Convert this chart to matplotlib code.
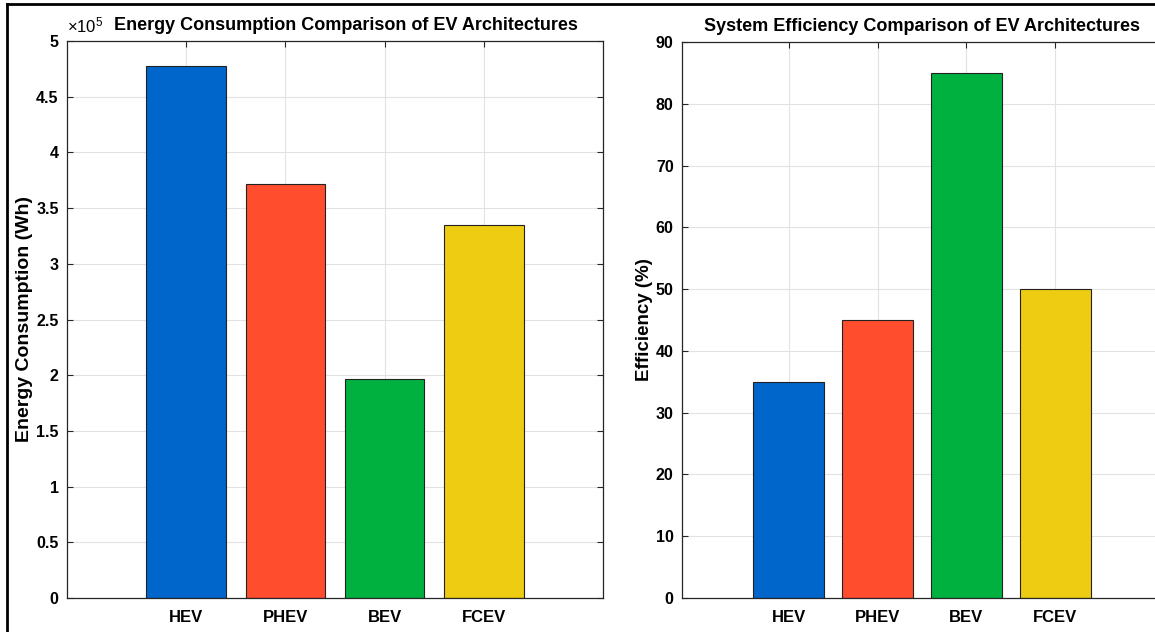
import matplotlib
matplotlib.use("Agg")
import matplotlib.pyplot as plt
from matplotlib.lines import Line2D

# Data
architectures = ["HEV", "PHEV", "BEV", "FCEV"]
energy_wh = [4.78e5, 3.72e5, 1.97e5, 3.35e5]
efficiency_pct = [35, 45, 85, 50]
bar_colors = ["#0066CC", "#FF4D2E", "#00B140", "#EECC11"]

energy_ticks = [0, 0.5, 1, 1.5, 2, 2.5, 3, 3.5, 4, 4.5, 5]
efficiency_ticks = [0, 10, 20, 30, 40, 50, 60, 70, 80, 90]

plt.rcParams["font.family"] = ["Liberation Sans", "DejaVu Sans"]
plt.rcParams["font.weight"] = "bold"
plt.rcParams["mathtext.default"] = "regular"

W, H = 1155, 632
fig = plt.figure(figsize=(W / 100, H / 100), dpi=100)


def px_axes(x0, y0, x1, y1):
    return fig.add_axes([x0 / W, 1 - y1 / H, (x1 - x0) / W, (y1 - y0) / H])


def style(ax):
    ax.set_xlim(-0.2, 5.2)
    ax.grid(True, color="#E2E2E2", linewidth=0.8)
    ax.set_axisbelow(True)
    for s in ax.spines.values():
        s.set_color("#262626")
        s.set_linewidth(0.9)
    ax.tick_params(direction="in", top=True, right=True, length=4,
                   color="#262626", labelsize=11.5, pad=6)
    ax.tick_params(axis="x", pad=9, labelsize=12)
    for lab in ax.get_xticklabels() + ax.get_yticklabels():
        lab.set_fontweight("bold")


x = [1, 2, 3, 4]

# Energy consumption panel
ax1 = px_axes(67, 41, 603, 598)
ax1.bar(x, [v / 1e5 for v in energy_wh], width=0.8, color=bar_colors,
        edgecolor="#222222", linewidth=0.8)
ax1.set_ylim(0, 5)
ax1.set_yticks(energy_ticks)
ax1.set_yticklabels([f"{t:g}" for t in energy_ticks])
ax1.set_xticks(x)
ax1.set_xticklabels(architectures)
style(ax1)
ax1.set_ylabel("Energy Consumption (Wh)", fontsize=14, fontweight="bold")
ax1.yaxis.set_label_coords(-0.064, 0.5)
ax1.set_title("Energy Consumption Comparison of EV Architectures",
              fontsize=13, fontweight="bold", pad=8, x=0.52)
ax1.text(0.0, 1.01, r"$\times10^{5}$", transform=ax1.transAxes,
         fontsize=12, ha="left", va="bottom", fontweight="normal")

# Efficiency panel
ax2 = px_axes(682, 42, 1162, 598)
ax2.bar(x, efficiency_pct, width=0.8, color=bar_colors,
        edgecolor="#222222", linewidth=0.8)
ax2.set_ylim(0, 90)
ax2.set_yticks(efficiency_ticks)
ax2.set_xticks(x)
ax2.set_xticklabels(architectures)
style(ax2)
ax2.set_ylabel("Efficiency (%)", fontsize=13.5, fontweight="bold")
ax2.yaxis.set_label_coords(-0.06, 0.5)
ax2.set_title("System Efficiency Comparison of EV Architectures",
              fontsize=13, fontweight="bold", pad=8)

# Frame lines along the top and left edges
fig.add_artist(Line2D([7 / W, 7 / W], [0, 1 - 4 / H], color="black", linewidth=2))
fig.add_artist(Line2D([7 / W, 1], [1 - 4 / H, 1 - 4 / H], color="black", linewidth=2))

fig.savefig("out.png", dpi=100)
